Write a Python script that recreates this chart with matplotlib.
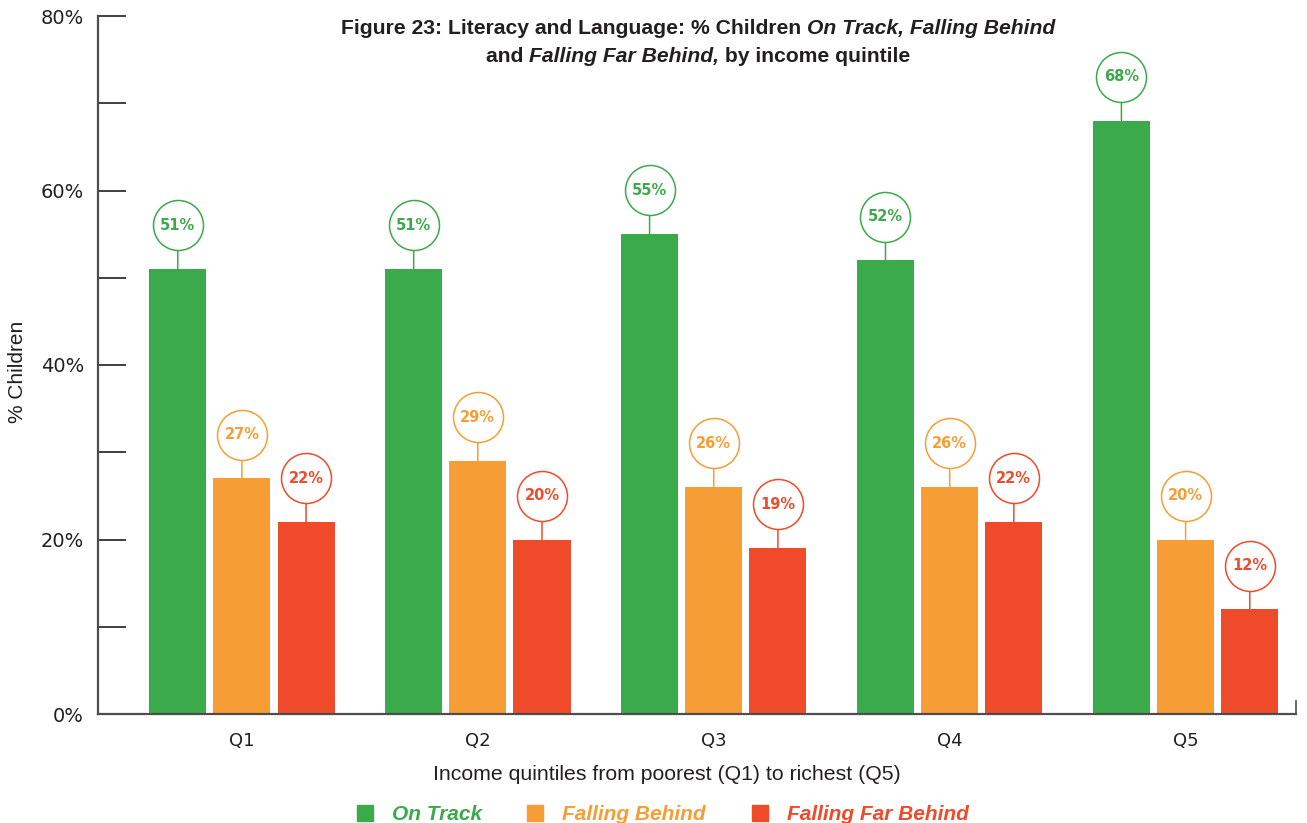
import numpy as np
import matplotlib
matplotlib.use("Agg")
import matplotlib.pyplot as plt
from matplotlib.transforms import offset_copy
from matplotlib.patches import Rectangle

# data
quintiles = ["Q1", "Q2", "Q3", "Q4", "Q5"]
series = ["On Track", "Falling Behind", "Falling Far Behind"]
on_track = [51, 51, 55, 52, 68]
falling_behind = [27, 29, 26, 26, 20]
falling_far_behind = [22, 20, 19, 22, 12]
colours = ["#3aaa4a", "#f79d35", "#ef4a2a"]

W, H = 1307, 823
fig = plt.figure(figsize=(W / 100, H / 100), dpi=100)
ax = fig.add_axes([98 / W, 1 - 714 / H, (1296 - 98) / W, (714 - 16) / H])

x = np.arange(len(quintiles))
bar_w = 0.242
offs = [-0.272, 0.0, 0.272]
values = [on_track, falling_behind, falling_far_behind]

# circle label placement (points above bar top)
lift = 31.5
rad = 18.0
for vals, off, col in zip(values, offs, colours):
    xs = x + off
    ax.bar(xs, vals, width=bar_w, color=col, zorder=2)
    trans = offset_copy(ax.transData, fig=fig, x=0, y=lift, units="points")
    ax.scatter(xs, vals, s=(2 * rad) ** 2, facecolor="white", edgecolor=col,
               linewidth=1.1, transform=trans, zorder=4, clip_on=False)
    for xi, v in zip(xs, vals):
        ax.text(xi, v, "{}%".format(v), transform=trans, ha="center",
                va="center", fontsize=10.5, fontweight="bold", color=col,
                zorder=5)
        ax.annotate("", xy=(xi, v), xytext=(0, lift - rad),
                    textcoords="offset points",
                    arrowprops=dict(arrowstyle="-", color=col, lw=1.1,
                                    shrinkA=0, shrinkB=0), zorder=3)

ax.set_xlim(-0.61, 4.468)
ax.set_ylim(0, 80)
ax.set_yticks([0, 20, 40, 60, 80])
ax.set_yticklabels(["0%", "20%", "40%", "60%", "80%"], fontsize=14,
                   color="#231f20")
ax.set_yticks([10, 30, 50, 70], minor=True)
ax.tick_params(axis="y", which="both", direction="in", length=20, width=1.2,
               color="#231f20", pad=10)
ax.set_xticks(x)
ax.set_xticklabels(quintiles, fontsize=13, color="#231f20")
ax.tick_params(axis="x", length=0, pad=13)
for s in ["top", "right"]:
    ax.spines[s].set_visible(False)
for s in ["left", "bottom"]:
    ax.spines[s].set_color("#4d4d4f")
    ax.spines[s].set_linewidth(1.6)
ax.plot([1, 1], [0, 0.018], transform=ax.transAxes, color="#4d4d4f",
        lw=1.2, clip_on=False)

fig.text(18 / W, 1 - 372 / H, "% Children", rotation=90, ha="center",
         va="center", fontsize=15, color="#231f20",
         family=["Liberation Sans", "DejaVu Sans"])
fig.text(667 / W, 1 - 774 / H,
         "Income quintiles from poorest (Q1) to richest (Q5)", ha="center",
         va="center", fontsize=15.3, color="#231f20",
         family=["Liberation Sans Narrow", "Liberation Sans"])

# title with mixed bold / bold italic runs
renderer = fig.canvas.get_renderer()


def place_runs(runs, cx, cy, size):
    texts = []
    for txt, style in runs:
        t = fig.text(0, 1 - cy / H, txt, fontsize=size, fontweight="bold",
                     style=style, color="#231f20", va="center", ha="left",
                     family=["Liberation Sans", "DejaVu Sans"])
        texts.append(t)
    widths = [t.get_window_extent(renderer).width for t in texts]
    xpos = cx - sum(widths) / 2
    for t, w in zip(texts, widths):
        t.set_x(xpos / W)
        xpos += w


place_runs([("Figure 23: Literacy and Language: % Children ", "normal"),
            ("On Track, Falling Behind", "italic")], 698, 29, 15.2)
place_runs([("and ", "normal"), ("Falling Far Behind,", "italic"),
            (" by income quintile", "normal")], 698, 57, 15.2)

# legend drawn by hand below the axis label
leg_x = [357, 527, 752]
for lx, name, col in zip(leg_x, series, colours):
    fig.patches.append(Rectangle((lx / W, 1 - 821 / H), 16 / W, 16 / H,
                                 transform=fig.transFigure, color=col))
    fig.text((lx + 35) / W, 1 - 814 / H, name, fontsize=15,
             fontweight="bold", style="italic", color=col, va="center",
             family=["Liberation Sans Narrow", "Liberation Sans"])

fig.savefig("out.png", dpi=100)
